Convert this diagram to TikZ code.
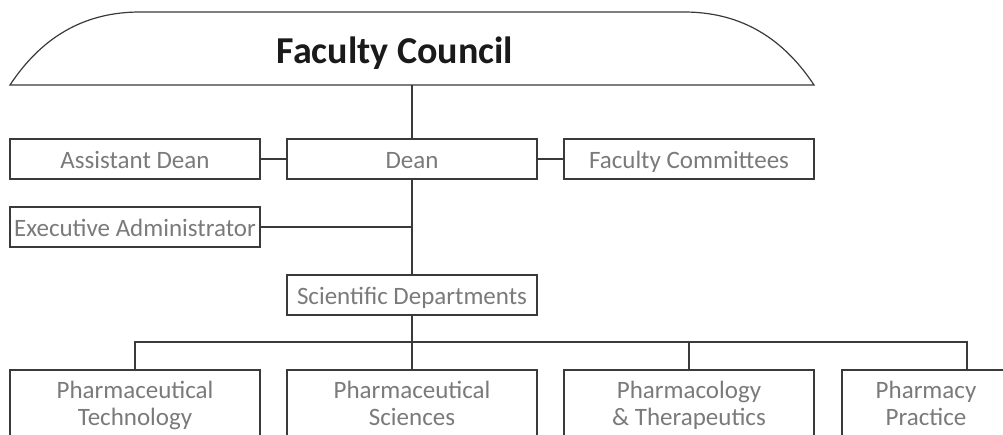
\documentclass[tikz,border=0pt]{standalone}
\usepackage{fontspec}
\setmainfont{Carlito}
\definecolor{linec}{HTML}{3A3A3A}
\definecolor{txtc}{HTML}{7A7A7A}
\definecolor{titc}{HTML}{1A1A1A}
\begin{document}
\begin{tikzpicture}[x=1pt,y=-1pt,
  box/.style={draw=linec,line width=1.2pt,rectangle,minimum width=250pt,minimum height=40pt,inner sep=2pt,text=txtc,font=\fontsize{25}{27}\selectfont},
  sbox/.style={box,text height=21.5pt,text depth=2pt},
  dbox/.style={box,minimum height=74pt,align=center},
  conn/.style={draw=linec,line width=1.2pt},
  lbl/.style={text=txtc,font=\fontsize{25}{27}\selectfont,align=center,inner sep=0pt}]
\useasboundingbox (0,0) rectangle (1003,434);
\clip (0,0) rectangle (1003,434);
% Faculty Council shape
\draw[conn,fill=white] (10,85) .. controls (45,32) and (90,12) .. (140,12) -- (684,12)
   .. controls (734,12) and (779,32) .. (814,85) -- cycle;
\node[text=titc,font=\bfseries\fontsize{38}{40}\selectfont,anchor=base] (council) at (395,63) {Faculty Council};
\coordinate (cbottom) at (412,85);
% row 1
\node[sbox] (asst) at (135,159) {Assistant Dean};
\node[sbox] (dean) at (412,159) {Dean};
\node[sbox] (comm) at (689,159) {Faculty Committees};
\node[sbox,text height=20.5pt,inner sep=1pt] (exec) at (135,227) {Executive Administrator};
\node[sbox,text height=20.5pt] (sci) at (412,295) {Scientific Departments};
% departments
\node[dbox] (d1) at (135,407) {Pharmaceutical\strut\\Technology\strut};
\node[dbox] (d2) at (412,407) {Pharmaceutical\strut\\Sciences\strut};
\node[dbox] (d3) at (689,407) {Pharmacology\strut\\\& Therapeutics\strut};
\node[dbox] (d4) at (967,407) {};
\node[lbl] (d4t) at (926,407) {Pharmacy\strut\\Practice\strut};
% connectors
\draw[conn] (cbottom) -- (dean.north);
\draw[conn] (asst.east) -- (dean.west);
\draw[conn] (dean.east) -- (comm.west);
\draw[conn] (dean.south) -- (sci.north);
\draw[conn] (exec.east) -- (exec.east -| sci.north);
\coordinate (bus) at (412,342);
\draw[conn] (sci.south) -- (bus);
\draw[conn] (d1.north) |- (bus) -| (d4.north);
\draw[conn] (bus) -- (d2.north);
\draw[conn] (d3.north) -- (d3.north |- bus);
\end{tikzpicture}
\end{document}
